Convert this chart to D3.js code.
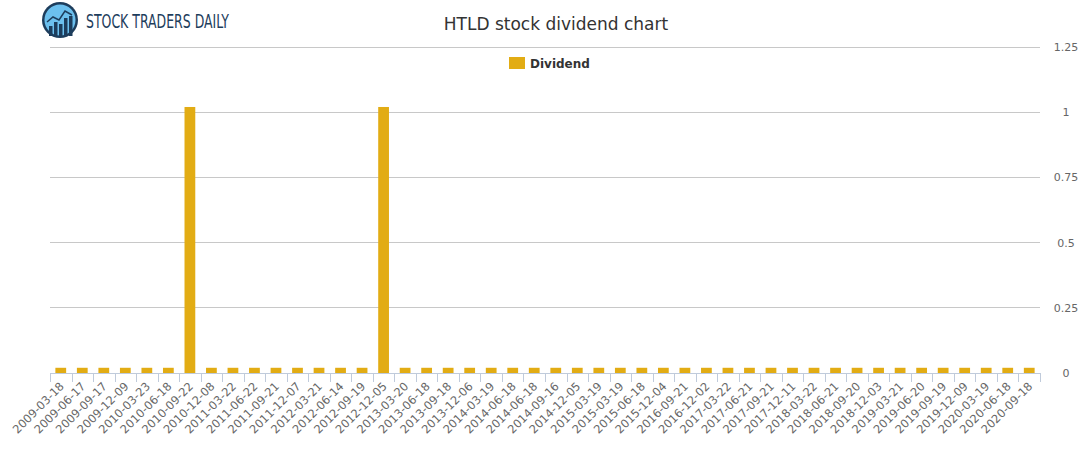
<!DOCTYPE html>
<html><head><meta charset="utf-8">
<script src="https://cdn.jsdelivr.net/npm/d3@7"></script>
<style>body{margin:0;background:#fff}</style></head>
<body><svg id="c" width="1091" height="450"></svg>
<script>
const categories=["2009-03-18","2009-06-17","2009-09-17","2009-12-09","2010-03-23","2010-06-18","2010-09-22","2010-12-08","2011-03-22","2011-06-22","2011-09-21","2011-12-07","2012-03-21","2012-06-14","2012-09-19","2012-12-05","2013-03-20","2013-06-18","2013-09-18","2013-12-06","2014-03-19","2014-06-18","2014-06-18","2014-09-16","2014-12-05","2015-03-19","2015-03-19","2015-06-18","2015-12-04","2016-09-21","2016-12-02","2017-03-22","2017-06-21","2017-09-21","2017-12-11","2018-03-22","2018-06-21","2018-09-20","2018-12-03","2019-03-21","2019-06-20","2019-09-19","2019-12-09","2020-03-19","2020-06-18","2020-09-18"];
const dividend=[0.02,0.02,0.02,0.02,0.02,0.02,1.02,0.02,0.02,0.02,0.02,0.02,0.02,0.02,0.02,1.02,0.02,0.02,0.02,0.02,0.02,0.02,0.02,0.02,0.02,0.02,0.02,0.02,0.02,0.02,0.02,0.02,0.02,0.02,0.02,0.02,0.02,0.02,0.02,0.02,0.02,0.02,0.02,0.02,0.02,0.02];
const yTicks=[0,0.25,0.5,0.75,1,1.25];
const yTickLabels=["0","0.25","0.5","0.75","1","1.25"];
const svg=d3.select("#c");
const L=50,R=1040,T=47,B=373;
const x=d3.scaleBand().domain(categories.map((d,i)=>i)).range([L,R]).paddingInner(0.5).paddingOuter(0.25);
const y=d3.scaleLinear().domain([0,1.25]).range([B,T]);
svg.append("g").selectAll("line").data(yTicks.slice(1)).join("line")
 .attr("x1",L).attr("x2",R).attr("y1",d=>y(d)).attr("y2",d=>y(d)).attr("stroke","#c8c8c8").attr("stroke-width",1).attr("shape-rendering","crispEdges");
svg.append("g").selectAll("text").data(yTicks).join("text")
 .attr("x",1066).attr("y",d=>y(d)+4).attr("text-anchor","middle").attr("font-family","DejaVu Sans").attr("font-size",11).attr("fill","#666")
 .text((d,i)=>yTickLabels[i]);
svg.append("g").selectAll("rect").data(dividend).join("rect")
 .attr("x",(d,i)=>x(i)).attr("width",x.bandwidth()).attr("y",d=>y(d)).attr("height",d=>B-y(d)).attr("fill","#e2ac14");
const step=(R-L)/categories.length;
const xa=svg.append("g");
xa.append("line").attr("x1",L).attr("x2",R).attr("y1",B+0.5).attr("y2",B+0.5).attr("stroke","#c0cbdb");
const tickPos=d3.range(categories.length+1).map(i=>L+i*step);
xa.selectAll("line.t").data(tickPos).join("line").attr("class","t")
 .attr("x1",d=>Math.round(d)+0.5).attr("x2",d=>Math.round(d)+0.5).attr("y1",B).attr("y2",B+9).attr("stroke","#c0cbdb");
xa.selectAll("text").data(categories).join("text")
 .attr("transform",(d,i)=>`translate(${x(i)+x.bandwidth()/2+4},${B+14}) rotate(-45)`)
 .attr("text-anchor","end").attr("font-family","DejaVu Sans").attr("font-size",11.5).attr("fill","#666").text(d=>d);
svg.append("text").attr("x",556).attr("y",30).attr("text-anchor","middle").attr("font-family","DejaVu Sans").attr("font-size",17).attr("fill","#333").text("HTLD stock dividend chart");
svg.append("rect").attr("x",509).attr("y",57).attr("width",16).attr("height",12).attr("fill","#e2ac14");
svg.append("text").attr("x",530).attr("y",68).attr("font-family","DejaVu Sans").attr("font-size",12).attr("font-weight","bold").attr("fill","#333").text("Dividend");
const lg=svg.append("g");
lg.append("circle").attr("cx",60).attr("cy",20).attr("r",18).attr("fill","#1d3d5c");
lg.append("circle").attr("cx",60).attr("cy",20).attr("r",15.5).attr("fill","#6cc0ee");
[[49,26,10],[54,22,14],[59,24,12],[64,18,18],[69,16,20]].forEach(b=>lg.append("rect").attr("x",b[0]).attr("y",b[1]).attr("width",3.5).attr("height",b[2]).attr("fill","#1d3d5c"));
lg.append("polyline").attr("points","47,22 53,17 59,20 65,11 72,15").attr("fill","none").attr("stroke","#1d3d5c").attr("stroke-width",1.5);
lg.append("text").attr("x",86).attr("y",28).attr("font-family","DejaVu Sans Condensed, DejaVu Sans").attr("font-stretch","condensed").attr("font-size",18).attr("fill","#1d3d5c").attr("textLength",143).attr("lengthAdjust","spacingAndGlyphs").attr("transform","translate(86,28) scale(1,1.1) translate(-86,-28)").text("STOCK TRADERS DAILY");
</script></body></html>
